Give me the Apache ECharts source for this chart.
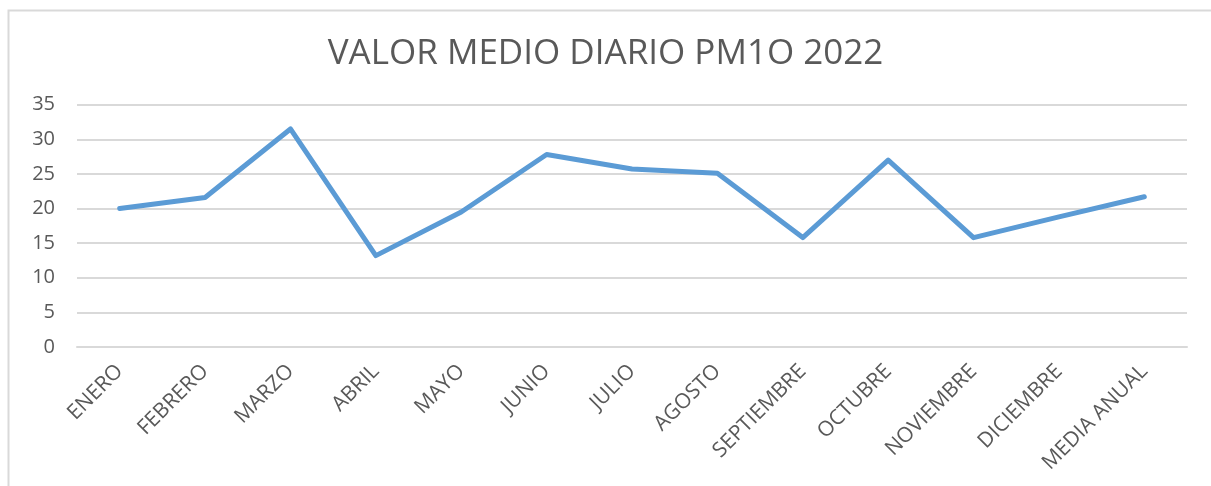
<!DOCTYPE html>
<html>
<head>
<meta charset="utf-8">
<script src="https://cdn.jsdelivr.net/npm/echarts@6/dist/echarts.min.js"></script>
<style>html,body{margin:0;padding:0;background:#fff}#c{width:1211px;height:486px}</style>
</head>
<body>
<div id="c"></div>
<script>
var titleText = 'VALOR MEDIO DIARIO PM1O 2022';
var categories = ['ENERO','FEBRERO','MARZO','ABRIL','MAYO','JUNIO','JULIO','AGOSTO','SEPTIEMBRE','OCTUBRE','NOVIEMBRE','DICIEMBRE','MEDIA ANUAL'];
var values = [20.0, 21.6, 31.5, 13.2, 19.5, 27.8, 25.7, 25.1, 15.8, 27.0, 15.8, 18.8, 21.7];
var yTicks = {min: 0, max: 35, interval: 5};

var chart = echarts.init(document.getElementById('c'), null, {renderer: 'canvas'});
chart.setOption({
  backgroundColor: '#fff',
  animation: false,
  graphic: [{
    type: 'rect', silent: true,
    shape: {x: 8.5, y: 10.5, width: 1400, height: 700},
    style: {fill: 'none', stroke: '#d9d9d9', lineWidth: 2}
  }],
  title: {
    text: titleText, left: 'center', top: 32,
    textStyle: {color: '#595959', fontFamily: 'Open Sans', fontWeight: 'normal', fontSize: 35}
  },
  grid: {left: 77, right: 24, top: 104.7, bottom: 139},
  xAxis: {
    type: 'category', data: categories, boundaryGap: true,
    axisLine: {show: true, lineStyle: {color: '#d9d9d9', width: 2}},
    axisTick: {show: false},
    axisLabel: {rotate: 45, color: '#595959', fontFamily: 'Open Sans', fontSize: 21, interval: 0, margin: 21}
  },
  yAxis: {
    type: 'value', min: yTicks.min, max: yTicks.max, interval: yTicks.interval,
    axisLine: {show: false}, axisTick: {show: false},
    splitLine: {lineStyle: {color: '#d9d9d9', width: 2}},
    axisLabel: {color: '#595959', fontFamily: 'Open Sans', fontSize: 20, margin: 22}
  },
  series: [{
    type: 'line', data: values, symbol: 'none',
    lineStyle: {color: '#5b9bd5', width: 5, cap: 'round', join: 'round'}
  }]
});
</script>
</body>
</html>
